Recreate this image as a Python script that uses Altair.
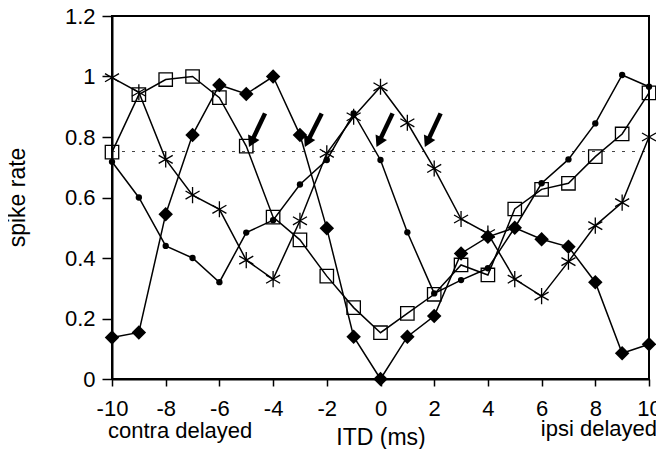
import altair as alt
import pandas as pd

# ITD values (ms)
itd = list(range(-10, 11))

# four cells
squares = [0.75, 0.94, 0.99, 1.0, 0.93, 0.77, 0.535, 0.46, 0.34, 0.236, 0.153,
           0.217, 0.28, 0.377, 0.344, 0.562, 0.627, 0.647, 0.735, 0.81, 0.946]
dots = [0.718, 0.60, 0.44, 0.40, 0.32, 0.484, 0.525, 0.643, 0.724, 0.878, 0.724,
        0.485, 0.283, 0.327, 0.366, 0.50, 0.647, 0.726, 0.845, 1.005, 0.966]
diamonds = [0.137, 0.154, 0.545, 0.807, 0.972, 0.942, 1.0, 0.807, 0.498, 0.14, 0.0,
            0.14, 0.208, 0.415, 0.47, 0.50, 0.462, 0.437, 0.32, 0.085, 0.115]
stars = [0.996, 0.948, 0.726, 0.608, 0.561, 0.393, 0.33, 0.523, 0.746, 0.867, 0.966,
         0.847, 0.696, 0.529, 0.481, 0.33, 0.274, 0.388, 0.507, 0.583, 0.80]

threshold = 0.752

# arrows: tail -> head
arrow_x0 = [-4.3, -2.19, 0.45, 2.24]
arrow_y0 = [0.878, 0.878, 0.878, 0.878]
arrow_x1 = [-4.81, -2.73, -0.06, 1.74]
arrow_y1 = [0.783, 0.783, 0.783, 0.783]

x_ticks = list(range(-10, 11))
y_ticks = [0, 0.1, 0.2, 0.3, 0.4, 0.5, 0.6, 0.7, 0.8, 0.9, 1.0, 1.1, 1.2]

df = pd.concat([
    pd.DataFrame({"itd": itd, "rate": squares, "cell": "squares"}),
    pd.DataFrame({"itd": itd, "rate": dots, "cell": "dots"}),
    pd.DataFrame({"itd": itd, "rate": diamonds, "cell": "diamonds"}),
    pd.DataFrame({"itd": itd, "rate": stars, "cell": "stars"}),
])

arrows = pd.DataFrame({"x0": arrow_x0, "y0": arrow_y0, "x1": arrow_x1, "y1": arrow_y1})

FONT = "Liberation Sans"

x_scale = alt.Scale(domain=[-10, 10], nice=False, zero=False)
y_scale = alt.Scale(domain=[0, 1.2], nice=False)

x_axis = alt.Axis(
    values=x_ticks,
    labelExpr="datum.value % 2 == 0 ? datum.value + '' : ''",
    labelFlush=False,
    labelOverlap=False,
    tickSize={"condition": {"test": "datum.value % 2 == 0", "value": 7}, "value": 4},
    labelPadding=12,
    title="ITD (ms)",
    titleY=65,
    titleBaseline="alphabetic",
    titleFontSize=23,
    titleFontWeight="normal",
    grid=False,
)
y_axis = alt.Axis(
    values=y_ticks,
    labelExpr="round(datum.value * 10) % 2 == 0 ? format(datum.value, '~g') : ''",
    labelFlush=False,
    labelOverlap=False,
    tickSize={"condition": {"test": "round(datum.value * 10) % 2 == 0", "value": 10}, "value": 7},
    labelPadding=7,
    title="spike rate",
    titleX=-88,
    titleY=181,
    titleAngle=-90,
    titleBaseline="alphabetic",
    titleAlign="center",
    titleFontSize=23,
    titleFontWeight="normal",
    grid=False,
)

base = alt.Chart(df).encode(
    x=alt.X("itd:Q", scale=x_scale, axis=x_axis),
    y=alt.Y("rate:Q", scale=y_scale, axis=y_axis),
)

lines = base.mark_line(color="black", strokeWidth=1.5).encode(detail="cell:N")

sq = base.transform_filter("datum.cell == 'squares'").mark_point(
    shape="square", size=180, filled=False, color="black", strokeWidth=1.3, opacity=1
)
dt = base.transform_filter("datum.cell == 'dots'").mark_point(
    shape="circle", size=40, filled=True, color="black", opacity=1
)
dm = base.transform_filter("datum.cell == 'diamonds'").mark_point(
    shape="diamond", size=210, filled=True, color="black", opacity=1
)
st = base.transform_filter("datum.cell == 'stars'").mark_point(
    shape="M0,-1L0,1M-0.87,-0.5L0.87,0.5M-0.87,0.5L0.87,-0.5",
    size=260, filled=False, color="black", strokeWidth=1.3, opacity=1
)

dotted = alt.Chart(pd.DataFrame({"y": [threshold]})).mark_rule(
    color="#444", strokeWidth=1, strokeDash=[3, 7]
).encode(
    y=alt.Y("y:Q", scale=y_scale),
    x=alt.value(0),
    x2=alt.value(537),
)

shafts = alt.Chart(arrows).mark_rule(color="black", strokeWidth=4.5).encode(
    x=alt.X("x0:Q", scale=x_scale),
    y=alt.Y("y0:Q", scale=y_scale),
    x2="x1:Q",
    y2="y1:Q",
)
heads = alt.Chart(arrows).mark_point(
    shape="triangle-up", size=160, filled=True, color="black", angle=206, opacity=1
).encode(
    x=alt.X("x1:Q", scale=x_scale),
    y=alt.Y("y1:Q", scale=y_scale),
)

side_labels = alt.Chart(pd.DataFrame({"t": ["contra delayed"]})).mark_text(
    align="left", baseline="alphabetic", fontSize=22, font=FONT, color="black"
).encode(text="t:N", x=alt.value(-4), y=alt.value(422))
side_labels2 = alt.Chart(pd.DataFrame({"t": ["ipsi delayed"]})).mark_text(
    align="right", baseline="alphabetic", fontSize=22, font=FONT, color="black"
).encode(text="t:N", x=alt.value(545), y=alt.value(420))

chart = (
    alt.layer(dotted, lines, sq, dt, dm, st, shafts, heads, side_labels, side_labels2)
    .properties(
        width=537,
        height=363,
        padding={"left": 104, "top": 8, "right": 7, "bottom": 70},
        autosize=alt.AutoSizeParams(type="none"),
    )
    .configure(font=FONT, background="white")
    .configure_view(stroke="black", strokeWidth=2)
    .configure_axis(
        labelFont=FONT,
        titleFont=FONT,
        labelFontSize=22,
        labelColor="black",
        titleColor="black",
        domainColor="black",
        domainWidth=2,
        tickColor="black",
        tickWidth=1.5,
    )
)

chart.save("out.html", embed_options={"renderer": "svg", "actions": False})
